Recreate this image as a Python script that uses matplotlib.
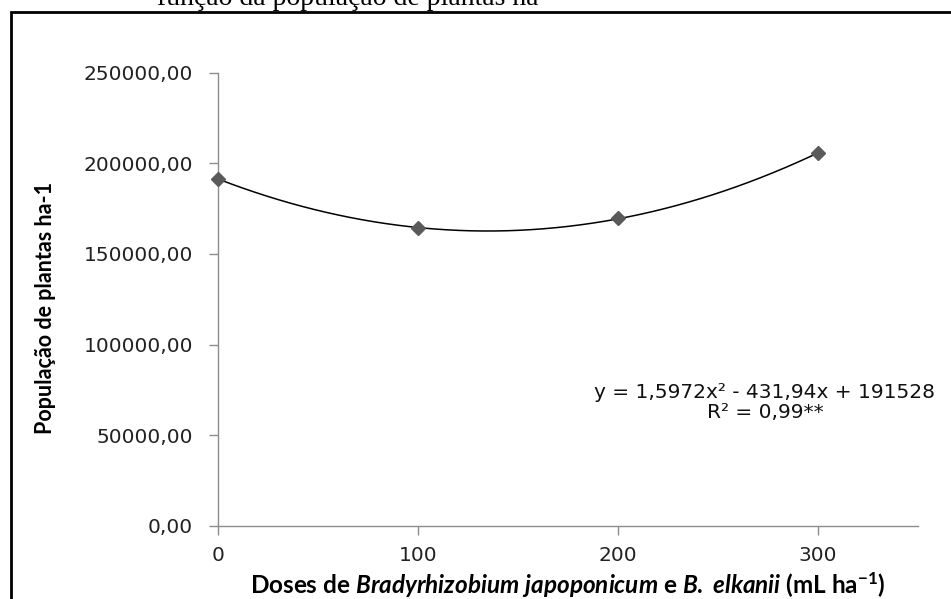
import numpy as np
import matplotlib
matplotlib.use("Agg")
import matplotlib.pyplot as plt
from matplotlib.patches import Rectangle

# data
doses = [0, 100, 200, 300]
populacao = [191500, 164100, 169800, 205600]
y_ticks = [0, 50000, 100000, 150000, 200000, 250000]
x_ticks = [0, 100, 200, 300]

equation = "y = 1,5972x² - 431,94x + 191528"
r2_text = "R² = 0,99**"

plt.rcParams['mathtext.fontset'] = 'custom'
plt.rcParams['mathtext.rm'] = 'Lato:bold'
plt.rcParams['mathtext.bf'] = 'Lato:bold'
plt.rcParams['mathtext.it'] = 'Lato:bold:italic'

W, H = 951, 599
fig = plt.figure(figsize=(W / 100, H / 100), dpi=100)


def fx(px):
    return px / W


def fy(py):
    return 1 - py / H


ax = fig.add_axes([fx(218), fy(525.7), fx(918) - fx(218), fy(72.7) - fy(525.7)])

# quadratic trendline fitted to the points
coef = np.polyfit(doses, populacao, 2)
xs = np.linspace(0, 300, 200)
ax.plot(xs, np.polyval(coef, xs), color='black', linewidth=1.1, zorder=2)
ax.plot(doses, populacao, linestyle='none', marker='D', markersize=7,
        color='#5a5a5a', zorder=3, clip_on=False)

ax.set_xlim(0, 350)
ax.set_ylim(0, 250000)
ax.set_xticks(x_ticks)
ax.set_yticks(y_ticks)
ax.set_yticklabels([f"{v:.2f}".replace('.', ',') for v in y_ticks])
for spine in ['top', 'right']:
    ax.spines[spine].set_visible(False)
for spine in ['left', 'bottom']:
    ax.spines[spine].set_color('#8c8c8c')
    ax.spines[spine].set_linewidth(1.0)
ax.tick_params(axis='both', direction='out', length=6.5, width=1.0,
               color='#8c8c8c', labelsize=14.5, labelcolor='#222222')
ax.tick_params(axis='y', pad=11.5)
ax.tick_params(axis='x', pad=8)
for lab in ax.get_xticklabels() + ax.get_yticklabels():
    lab.set_family('DejaVu Sans')

ax.set_ylabel("População de plantas ha-1", fontsize=15.5, fontweight='bold',
              family='Lato', va='center')
ax.yaxis.set_label_coords(-0.247, 0.48)
ax.set_xlabel(r"Doses de $\mathit{Bradyrhizobium\ japoponicum}$ e "
              r"$\mathit{B.}$ $\mathit{elkanii}$ (mL ha$^{-1}$)",
              fontsize=17.5, fontweight='bold', family='Lato', va='center')
ax.xaxis.set_label_coords(0.5, -0.131)

fig.text(fx(765), fy(392), equation, ha='center', va='center',
         fontsize=14.5, family='DejaVu Sans', color='#111111')
fig.text(fx(765), fy(413), r2_text, ha='center', va='center',
         fontsize=14.5, family='DejaVu Sans', color='#111111')

# outer chart frame, cut off at right and bottom
fig.patches.append(Rectangle((fx(11), fy(H + 20)), fx(W + 20), fy(12) - fy(H + 20),
                             transform=fig.transFigure, fill=False,
                             edgecolor='black', linewidth=2))

# caption of the page above the figure, cut at the top
fig.text(fx(157), fy(5), "função da população de plantas ha", ha='left',
         va='baseline', fontsize=20, family='Liberation Serif', color='black')

fig.savefig("out.png", dpi=100)
